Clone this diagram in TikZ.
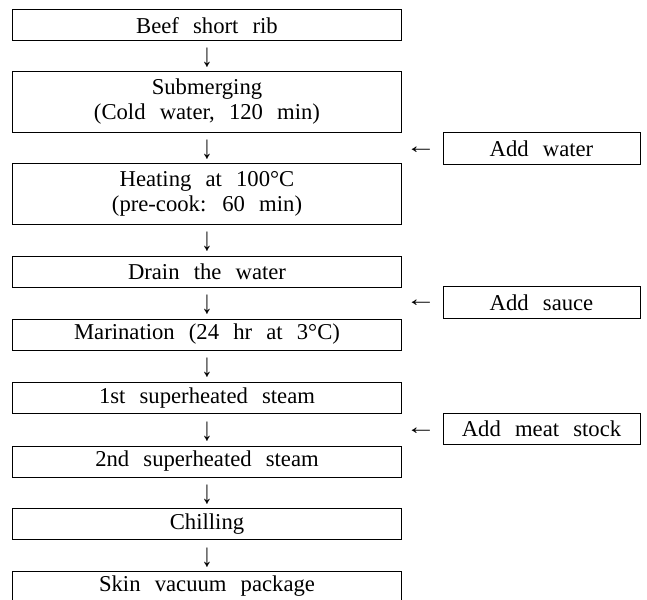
\documentclass[tikz,border=0pt]{standalone}
\usepackage{fontspec}
\setmainfont{Liberation Serif}[WordSpace=2.5]
\usetikzlibrary{calc}
\newcommand{\dnarrow}{\scalebox{1}[1.45]{↓}}
\newcommand{\lfarrow}{\scalebox{1.35}[1]{←}}
\begin{document}
\begin{tikzpicture}[x=0.75pt,y=-0.75pt,
  txt/.style={font=\fontsize{17}{18.75}\selectfont},
  box/.style={txt, draw, line width=0.75pt, inner sep=0pt, minimum width=292pt, minimum height=23.25pt, align=center},
  tall/.style={minimum height=45.75pt},
  addbox/.style={box, minimum width=147.75pt, minimum height=23.6pt},
  glyph/.style={txt, inner sep=0pt}]
\clip (0,0) rectangle (647,600);
% main column
\node[box] (b1) at (207,25.25) {Beef short rib};
\node[box,tall] (b2) at (207,101.5) {Submerging\\(Cold water, 120 min)};
\node[box,tall] (b3) at (207,193.5) {Heating at 100°C\\(pre-cook: 60 min)};
\node[box] (b4) at (207,271.5) {Drain the water};
\node[box] (b5) at (207,334.5) {Marination (24 hr at 3°C)};
\node[box] (b6) at (207,398) {1st superheated steam};
\node[box] (b7) at (207,461.5) {2nd superheated steam};
\node[box] (b8) at (207,524.25) {Chilling};
\node[box] (b9) at (207,586.5) {Skin vacuum package};
% down arrows
\node[glyph,yshift=-1.5pt] (d1) at ($(b1.south)!0.5!(b2.north)$) {\dnarrow};
\node[glyph,yshift=-1.5pt] (d2) at ($(b2.south)!0.5!(b3.north)$) {\dnarrow};
\node[glyph,yshift=-1.5pt] (d3) at ($(b3.south)!0.5!(b4.north)$) {\dnarrow};
\node[glyph,yshift=-1.5pt] (d4) at ($(b4.south)!0.5!(b5.north)$) {\dnarrow};
\node[glyph,yshift=-1.5pt] (d5) at ($(b5.south)!0.5!(b6.north)$) {\dnarrow};
\node[glyph,yshift=-1.5pt] (d6) at ($(b6.south)!0.5!(b7.north)$) {\dnarrow};
\node[glyph,yshift=-1.5pt] (d7) at ($(b7.south)!0.5!(b8.north)$) {\dnarrow};
\node[glyph,yshift=-1.5pt] (d8) at ($(b8.south)!0.5!(b9.north)$) {\dnarrow};
% additions
\node[addbox] (r1) at (541.5,148.5) {Add water};
\node[addbox] (r2) at (541.5,302.5) {Add sauce};
\node[addbox] (r3) at (541.5,429) {Add meat stock};
\node[glyph] (l1) at ($(r1.west)+(-21.5,2)$) {\lfarrow};
\node[glyph] (l2) at ($(r2.west)+(-21.5,1)$) {\lfarrow};
\node[glyph] (l3) at ($(r3.west)+(-21.5,2)$) {\lfarrow};
\end{tikzpicture}
\end{document}
